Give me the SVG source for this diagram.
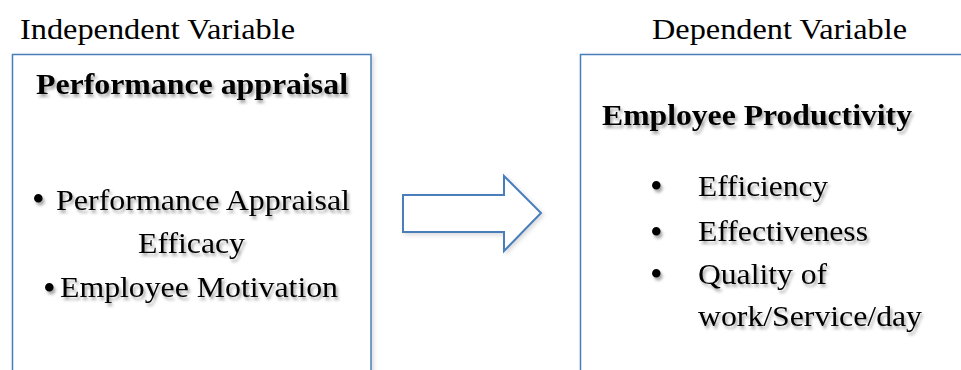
<svg xmlns="http://www.w3.org/2000/svg" width="961" height="370" viewBox="0 0 961 370">
<defs>
<filter id="ts" x="-10%" y="-30%" width="120%" height="160%">
<feDropShadow dx="2" dy="3" stdDeviation="1.6" flood-color="#000" flood-opacity="0.35"/>
</filter>
<filter id="bs" x="-10%" y="-10%" width="120%" height="120%">
<feDropShadow dx="2" dy="2" stdDeviation="2" flood-color="#000" flood-opacity="0.15"/>
</filter>
</defs>
<style>
text{font-family:"Liberation Serif","Times New Roman",Times,serif;fill:#000;font-size:30px}
.b{font-weight:bold}
.bul{font-size:36px}
.sh{filter:url(#ts)}
.box{fill:#fff;stroke:#4a7ebb;stroke-width:1.5;filter:url(#bs)}
.arr{fill:#fff;stroke:#4a7ebb;stroke-width:2;filter:url(#bs)}
</style>
<rect width="961" height="370" fill="#fff"/>
<text x="20" y="39" textLength="275" lengthAdjust="spacingAndGlyphs">Independent Variable</text>
<text x="652" y="39" textLength="255" lengthAdjust="spacingAndGlyphs">Dependent Variable</text>
<g id="independent">
<rect class="box" x="12.5" y="54.5" width="358.5" height="330"/>
<g class="sh">
<text class="b" x="36" y="94" textLength="312" lengthAdjust="spacingAndGlyphs">Performance appraisal</text>
<text class="bul" x="32" y="211">•</text>
<text x="56" y="210" textLength="294" lengthAdjust="spacingAndGlyphs">Performance Appraisal</text>
<text x="138" y="253" textLength="107" lengthAdjust="spacingAndGlyphs">Efficacy</text>
<text class="bul" x="43" y="300">•</text>
<text x="60" y="297" textLength="278" lengthAdjust="spacingAndGlyphs">Employee Motivation</text>
</g>
</g>
<g id="connectors">
<path class="arr" d="M403,195 H504 V176 L541,213 L504,251 V232 H403 Z"/>
</g>
<g id="dependent">
<rect class="box" x="580.5" y="54.5" width="400" height="330"/>
<g class="sh">
<text class="b" x="602" y="125" textLength="310" lengthAdjust="spacingAndGlyphs">Employee Productivity</text>
<text class="bul" x="650" y="198">•</text>
<text x="698" y="196" textLength="130" lengthAdjust="spacingAndGlyphs">Efficiency</text>
<text class="bul" x="650" y="244">•</text>
<text x="698" y="241" textLength="170" lengthAdjust="spacingAndGlyphs">Effectiveness</text>
<text class="bul" x="650" y="286">•</text>
<text x="698" y="284" textLength="129" lengthAdjust="spacingAndGlyphs">Quality of</text>
<text x="698" y="326" textLength="224" lengthAdjust="spacingAndGlyphs">work/Service/day</text>
</g>
</g>
</svg>
